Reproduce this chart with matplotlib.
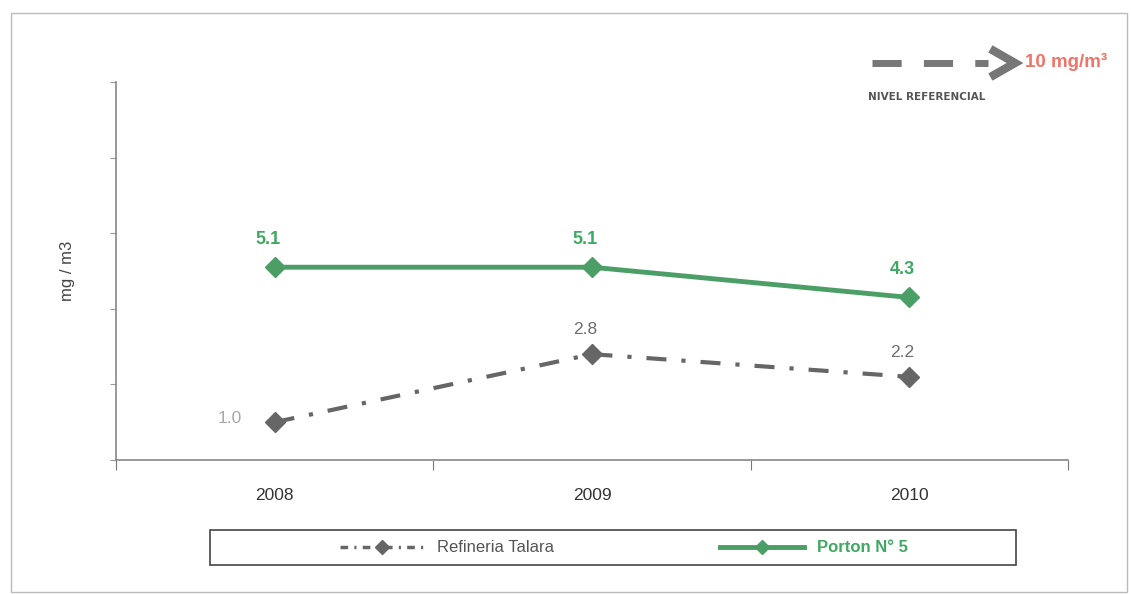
import numpy as np
import matplotlib
matplotlib.use("Agg")
import matplotlib.pyplot as plt
from matplotlib.patches import Rectangle
from matplotlib.lines import Line2D

# data
years = ["2008", "2009", "2010"]
refineria = [1.0, 2.8, 2.2]
porton = [5.1, 5.1, 4.3]
y_ticks = [0, 2, 4, 6, 8, 10]

GREEN = "#4a9e66"
GREEN_TXT = "#3fa862"
GREY = "#666666"
W, H = 1131, 594

plt.rcParams["font.family"] = ["Liberation Sans", "DejaVu Sans"]

def px(x, y):
	"""pixel coords (top-left origin) -> figure fraction"""
	return x / W, 1 - y / H

fig = plt.figure(figsize=(W / 100, H / 100), dpi=100)
ax = fig.add_axes([116 / W, 1 - 460 / H, (1068 - 116) / W, (460 - 82) / H])

x = np.arange(len(years))
ax.plot(x, refineria, color=GREY, lw=3, dashes=(4.8, 3.6, 1, 3.6),
		marker="D", ms=10, mfc=GREY, mec=GREY, label="Refineria Talara")
ax.plot(x, porton, color=GREEN, lw=3.5, marker="D", ms=10,
		mfc=GREEN, mec=GREEN, label="Porton N° 5")

# value labels
for i, v in enumerate(porton):
	ax.annotate(f"{v:.1f}", (i, v), xytext=(-5, 14), textcoords="offset points",
				ha="center", va="bottom", color=GREEN_TXT, fontsize=13,
				fontweight="bold")
ref_off = [(-32, 3), (-5, 12), (-5, 12)]
ref_col = ["#a8a8a8", "#6e6e6e", "#6e6e6e"]
for i, v in enumerate(refineria):
	dx, dy = ref_off[i]
	ax.annotate(f"{v:.1f}", (i, v), xytext=(dx, dy), textcoords="offset points",
				ha="center", va="bottom" if dy > 5 else "center",
				color=ref_col[i], fontsize=12.5)

ax.set_xlim(-0.5, len(years) - 0.5)
ax.set_ylim(0, 10)
ax.set_yticks(y_ticks)
ax.set_yticklabels([])
ax.set_xticks(np.arange(len(years) + 1) - 0.5)
ax.set_xticklabels([])
ax.set_xticks(x, minor=True)
ax.set_xticklabels(years, minor=True, fontsize=12.5, color="#333333")
ax.tick_params(axis="x", which="minor", length=0, pad=20)
ax.tick_params(axis="x", which="major", length=7, color="#777777")
ax.tick_params(axis="y", length=4, color="#999999")
for s in ["top", "right"]:
	ax.spines[s].set_visible(False)
for s in ["left", "bottom"]:
	ax.spines[s].set_color("#888888")
	ax.spines[s].set_linewidth(1.2)
ax.set_ylabel("mg / m3", fontsize=12, color="#444444", labelpad=22)

# legend with box
fig.patches.append(Rectangle(px(210, 565), 806 / W, 35 / H, transform=fig.transFigure,
							 fill=False, ec="#444444", lw=1.2))
leg = fig.legend(loc="center", bbox_to_anchor=px(624, 548), ncol=2, frameon=False,
				 fontsize=12, columnspacing=10, handlelength=5, markerscale=0.7)
leg.get_texts()[0].set_color("#555555")
leg.get_texts()[1].set_color(GREEN_TXT)
leg.get_texts()[1].set_fontweight("bold")
# shorter dash-dot so the pattern shows in the small legend handle
leg.get_lines()[0].set_linewidth(2.5)
leg.get_lines()[0].set_dashes((2.2, 1.8, 0.6, 1.8))

# reference level marker, top right
x0, y0 = px(872, 63)
x1, _ = px(988, 63)
fig.lines.append(Line2D([x0, x1], [y0, y0], transform=fig.transFigure,
						color="#777777", lw=5, dashes=(4.2, 3.2)))
cx = [px(994, 51), px(1015, 63), px(994, 75)]
fig.lines.append(Line2D([p[0] for p in cx], [p[1] for p in cx], transform=fig.transFigure,
						color="#777777", lw=6, solid_joinstyle="miter"))
fig.text(*px(1025, 62), "10 mg/m³", color="#f07468", fontsize=13.5, fontweight="bold",
		 va="center", ha="left")
fig.text(*px(868, 97), "NIVEL REFERENCIAL", color="#555555", fontsize=7.5,
		 fontweight="bold", va="center", ha="left", family="DejaVu Sans")

# outer border
fig.patches.append(Rectangle(px(11, 592), (1127 - 11) / W, (592 - 13) / H,
							 transform=fig.transFigure, fill=False, ec="#bbbbbb", lw=1))

fig.savefig("out.png", dpi=100)
